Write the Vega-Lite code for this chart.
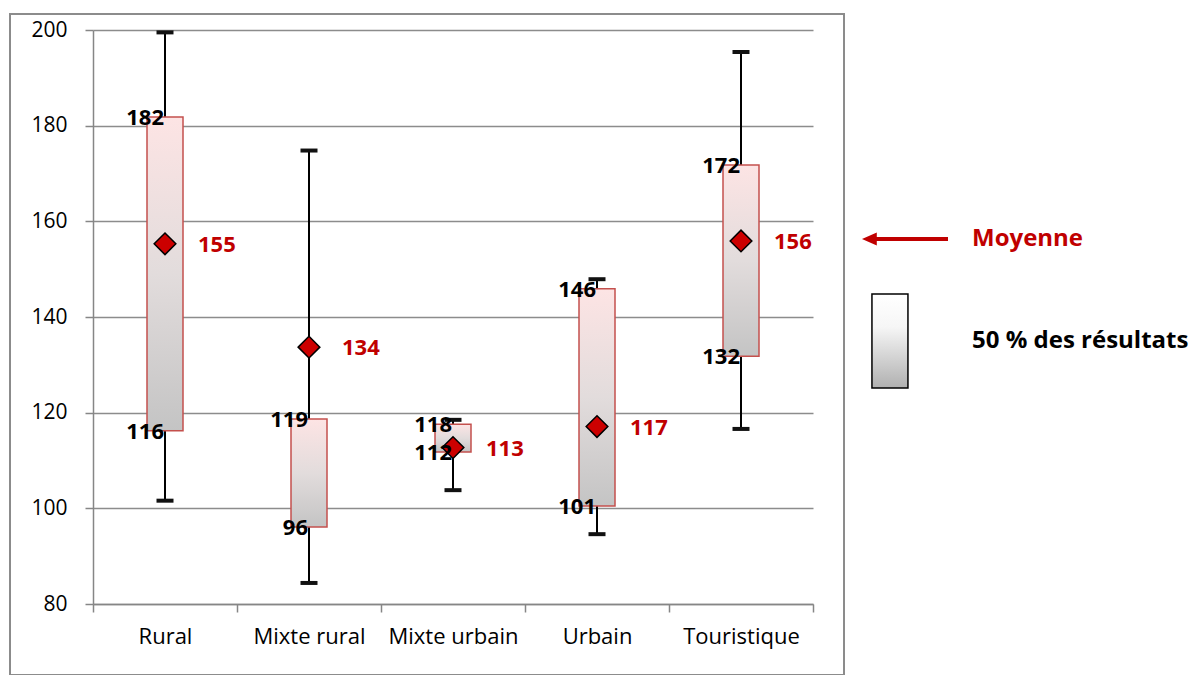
{
  "$schema": "https://vega.github.io/schema/vega-lite/v6.json",
  "padding": {"left": 9, "top": 13, "right": 0, "bottom": 0},
  "width": 720,
  "height": 574,
  "data": {
    "values": [
      {"cat": "Rural", "min": 101.6, "q1": 116.2, "q3": 181.8, "max": 199.5, "mean": 155.3},
      {"cat": "Mixte rural", "min": 84.4, "q1": 96.1, "q3": 118.7, "max": 174.8, "mean": 133.7},
      {"cat": "Mixte urbain", "min": 103.8, "q1": 111.8, "q3": 117.6, "max": 118.5, "mean": 112.7},
      {"cat": "Urbain", "min": 94.6, "q1": 100.5, "q3": 145.9, "max": 147.9, "mean": 117.1},
      {"cat": "Touristique", "min": 116.6, "q1": 131.8, "q3": 171.8, "max": 195.4, "mean": 155.9}
    ]
  },
  "resolve": {"scale": {"x": "independent"}, "axis": {"x": "independent"}},
  "layer": [
    {
      "mark": {"type": "rect", "fill": "transparent", "stroke": "#8c8c8c", "strokeWidth": 1.5},
      "encoding": {
        "x": {"datum": -0.1153, "type": "quantitative", "scale": {"domain": [0, 1], "nice": false, "zero": false}, "axis": null},
        "x2": {"datum": 1.0431},
        "y": {"datum": 203.35, "type": "quantitative", "scale": {"domain": [80, 200], "nice": false, "zero": false}},
        "y2": {"datum": 65.16}
      }
    },
    {
      "layer": [
        {
          "mark": {"type": "rule", "color": "#000000", "strokeWidth": 2},
          "encoding": {
            "x": {"field": "cat", "type": "nominal", "sort": null, "scale": {"paddingInner": 0, "paddingOuter": 0}, "title": null,
              "axis": {"tickBand": "extent", "domainColor": "#868686", "domainWidth": 1.5, "tickColor": "#868686", "tickWidth": 1.5, "tickSize": 8, "labelPadding": 14, "labelFontSize": 22, "labelColor": "#000000", "labelAngle": 0, "labelFont": "Open Sans", "grid": false}},
            "y": {"field": "min", "type": "quantitative", "scale": {"domain": [80, 200], "nice": false, "zero": false}, "title": null,
              "axis": {"values": [80, 100, 120, 140, 160, 180, 200], "grid": true, "gridColor": "#8c8c8c", "gridWidth": 1.5, "domainColor": "#868686", "domainWidth": 1.5, "tickColor": "#868686", "tickWidth": 1.5, "tickSize": 8, "labelPadding": 18, "labelFontSize": 21, "labelColor": "#000000", "labelFont": "Open Sans"}},
            "y2": {"field": "max"}
          }
        },
        {
          "mark": {"type": "tick", "color": "#111111", "size": 17, "thickness": 4, "opacity": 1},
          "encoding": {
            "x": {"field": "cat", "type": "nominal", "sort": null},
            "y": {"field": "max", "type": "quantitative"}
          }
        },
        {
          "mark": {"type": "tick", "color": "#111111", "size": 17, "thickness": 4, "opacity": 1},
          "encoding": {
            "x": {"field": "cat", "type": "nominal", "sort": null},
            "y": {"field": "min", "type": "quantitative"}
          }
        },
        {
          "mark": {"type": "bar", "width": {"band": 0.25}, "stroke": "#c4504d", "strokeWidth": 1.5, "opacity": 1,
            "color": {"gradient": "linear", "x1": 0, "y1": 0, "x2": 0, "y2": 1, "stops": [{"offset": 0, "color": "#fde4e4"}, {"offset": 0.5, "color": "#e2dcdc"}, {"offset": 1, "color": "#c4c4c4"}]}},
          "encoding": {
            "x": {"field": "cat", "type": "nominal", "sort": null},
            "y": {"field": "q1", "type": "quantitative"},
            "y2": {"field": "q3"}
          }
        },
        {
          "mark": {"type": "point", "shape": "diamond", "filled": true, "fill": "#cc0000", "stroke": "#000000", "strokeWidth": 1.5, "size": 470, "opacity": 1},
          "encoding": {
            "x": {"field": "cat", "type": "nominal", "sort": null},
            "y": {"field": "mean", "type": "quantitative"}
          }
        },
        {
          "mark": {"type": "text", "align": "right", "baseline": "middle", "dx": -1, "dy": 1, "font": "Open Sans", "fontSize": 22, "fontWeight": "bold", "color": "#000000"},
          "encoding": {
            "x": {"field": "cat", "type": "nominal", "sort": null},
            "y": {"field": "q3", "type": "quantitative"},
            "text": {"field": "q3", "type": "quantitative", "format": ".0f"}
          }
        },
        {
          "mark": {"type": "text", "align": "right", "baseline": "middle", "dx": -1, "dy": 1, "font": "Open Sans", "fontSize": 22, "fontWeight": "bold", "color": "#000000"},
          "encoding": {
            "x": {"field": "cat", "type": "nominal", "sort": null},
            "y": {"field": "q1", "type": "quantitative"},
            "text": {"field": "q1", "type": "quantitative", "format": ".0f"}
          }
        },
        {
          "mark": {"type": "text", "align": "left", "baseline": "middle", "dx": 33, "dy": 1, "font": "Open Sans", "fontSize": 22, "fontWeight": "bold", "color": "#c00000"},
          "encoding": {
            "x": {"field": "cat", "type": "nominal", "sort": null},
            "y": {"field": "mean", "type": "quantitative"},
            "text": {"field": "mean", "type": "quantitative", "format": ".0f"}
          }
        }
      ]
    },
    {
      "data": {"values": [{"leg": "Moyenne"}, {"leg": "50 % des résultats"}]},
      "mark": {"type": "point", "opacity": 0, "filled": true},
      "encoding": {
        "fill": {"field": "leg", "type": "nominal", "legend": null},
        "shape": {"field": "leg", "type": "nominal",
          "scale": {"domain": ["Moyenne", "50 % des résultats"], "range": ["M-0.745,0L-0.43,-0.14L-0.43,-0.043L1.085,-0.043L1.085,0.043L-0.43,0.043L-0.43,0.14Z", "M-0.533,-1L0.233,-1L0.233,1L-0.533,1Z"]},
          "legend": {
            "title": null, "orient": "none", "legendX": 756, "legendY": 161, "padding": 0,
            "symbolSize": 8836, "symbolOpacity": 1, "symbolStrokeWidth": 1.5,
            "symbolFillColor": {"expr": "datum.value === 'Moyenne' ? '#c00000' : {gradient: 'linear', x1: 0, y1: 0, x2: 0, y2: 1, stops: [{offset: 0, color: '#ffffff'}, {offset: 0.35, color: '#f6f6f6'}, {offset: 1, color: '#b0b0b0'}]}"},
            "symbolStrokeColor": {"expr": "datum.value === 'Moyenne' ? 'transparent' : '#000000'"},
            "labelColor": {"expr": "datum.value === 'Moyenne' ? '#c00000' : '#000000'"},
            "labelOffset": 27, "rowPadding": 40,
            "labelFont": "Open Sans", "labelFontSize": 24, "labelFontWeight": "bold", "labelLimit": 400
          }
        }
      }
    }
  ],
  "config": {
    "view": {"stroke": null},
    "font": "Open Sans"
  }
}
